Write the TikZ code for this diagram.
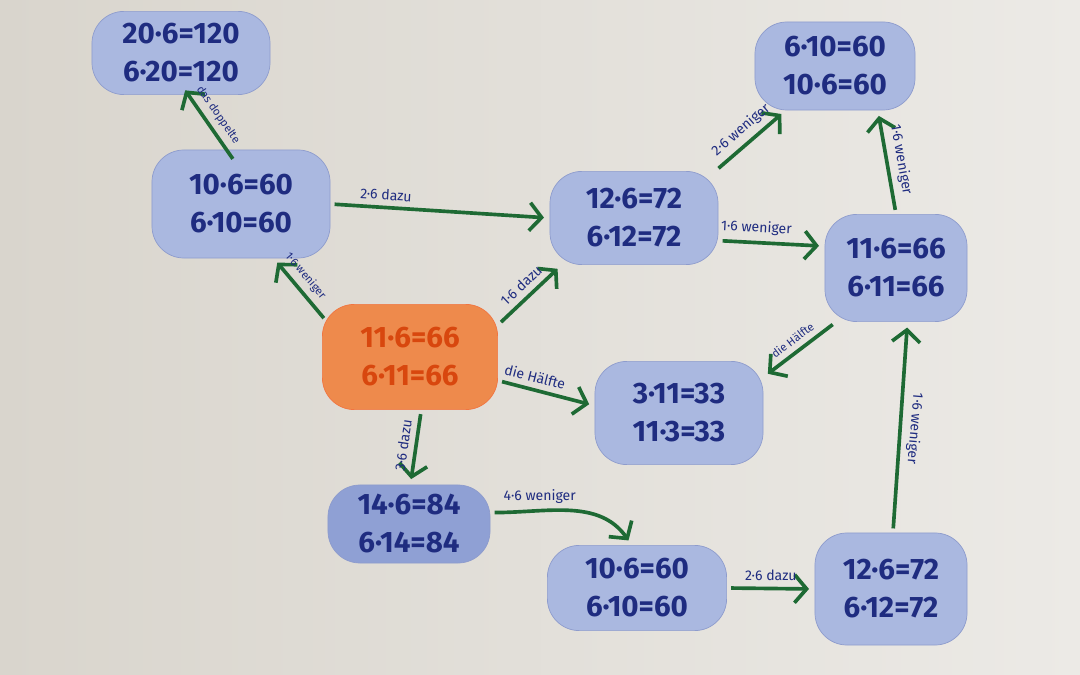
\documentclass[tikz,border=0pt]{standalone}
\usepackage{fontspec}
\setmainfont{Fira Sans}
\usepackage{xcolor}
\usetikzlibrary{arrows.meta}

\definecolor{paperdark}{HTML}{D9D5CD}
\definecolor{paperlight}{HTML}{ECEAE6}
\definecolor{blobblue}{HTML}{AAB8E0}
\definecolor{blobdeep}{HTML}{8FA0D4}
\definecolor{ink}{HTML}{1F2C80}
\definecolor{arrgreen}{HTML}{1E6A34}
\definecolor{bloborange}{HTML}{EE8A4C}
\definecolor{inkorange}{HTML}{D8470E}

\tikzset{
  blob/.style={rectangle, rounded corners=0.8cm, fill=blobblue, draw=blobblue!80!ink, line width=0.5pt,
    text=ink, align=center, inner sep=0pt, font=\bfseries\fontsize{21}{27}\selectfont},
  deepblob/.style={blob, fill=blobdeep},
  startblob/.style={blob, fill=bloborange, draw=bloborange!85!red, text=inkorange},
  arr/.style={draw=arrgreen, line width=2.6pt, -{Straight Barb[length=3mm,width=7mm]},
    shorten <=3pt, shorten >=4pt},
  lbl/.style={font=\fontsize{10}{12}\selectfont, text=ink, inner sep=4pt},
  smalllbl/.style={lbl, font=\fontsize{8}{10}\selectfont, inner sep=4pt}
}

\begin{document}
\begin{tikzpicture}[x=0.025cm, y=-0.025cm]

% paper
\useasboundingbox (0,0) rectangle (1080,675);
\shade[left color=paperdark, right color=paperlight] (0,0) rectangle (1080,675);

% calculation blobs
{
\node (double) at (181,53)  [blob, minimum width=4.45cm, minimum height=2.08cm]{20·6=120\\6·20=120};
\node (ten)    at (241,204) [blob, minimum width=4.45cm, minimum height=2.7cm]{10·6=60\\6·10=60};
\node (start)  at (410,357) [startblob, minimum width=4.38cm, minimum height=2.63cm]{11·6=66\\6·11=66};
\node (twelve) at (634,218) [blob, minimum width=4.2cm, minimum height=2.33cm]{12·6=72\\6·12=72};
\node (tenR)   at (835,66)  [blob, minimum width=4.0cm, minimum height=2.2cm]{6·10=60\\10·6=60};
\node (elevR)  at (896,268) [blob, minimum width=3.55cm, minimum height=2.68cm]{11·6=66\\6·11=66};
\node (half)   at (679,413) [blob, minimum width=4.2cm, minimum height=2.58cm]{3·11=33\\11·3=33};
\node (fourt)  at (409,524) [deepblob, minimum width=4.05cm, minimum height=1.95cm]{14·6=84\\6·14=84};
\node (tenB)   at (637,588) [blob, minimum width=4.48cm, minimum height=2.13cm]{10·6=60\\6·10=60};
\node (twelvB) at (891,589) [blob, minimum width=3.8cm, minimum height=2.8cm]{12·6=72\\6·12=72};
}

% arrows
{
\draw[arr, shorten <=-8pt, shorten >=-4pt] (ten.105) -- node[smalllbl, sloped, above, pos=0.5]{das doppelte} (double.-80);
\draw[arr] (ten.east) -- node[lbl, sloped, above, pos=0.25]{2·6 dazu} (twelve.west);
\draw[arr, shorten <=-2pt] (start.155) -- node[smalllbl, sloped, above, pos=0.55]{1·6 weniger} (ten.-59);
\draw[arr] (start.20) -- node[lbl, sloped, above]{1·6 dazu} (twelve.213);
\draw[arr] (twelve.30) -- node[lbl, sloped, above]{2·6 weniger} (tenR.222);
\draw[arr] (twelve.-15) -- node[lbl, sloped, above, pos=0.35]{1·6 weniger} (elevR.163);
\draw[arr] (elevR.north) -- node[lbl, sloped, above]{1·6 weniger} (tenR.-46);
\draw[arr] (elevR.222) -- node[smalllbl, sloped, above, pos=0.5]{die Hälfte} (half.23);
\draw[arr] (start.-15) -- node[lbl, sloped, above, pos=0.35]{die Hälfte} (half.175);
\draw[arr] (start.-78) -- node[lbl, sloped, above]{3·6 dazu} (fourt.88);
\draw[arr] (fourt.8) to[out=0, in=125] node[lbl, above, pos=0.3]{4·6 weniger} (tenB.97);
\draw[arr] (tenB.east) -- node[lbl, above]{2·6 dazu} (twelvB.west);
\draw[arr] (twelvB.88) -- node[lbl, anchor=south, rotate=-95]{1·6 weniger} (elevR.-78);
}

\end{tikzpicture}
\end{document}
